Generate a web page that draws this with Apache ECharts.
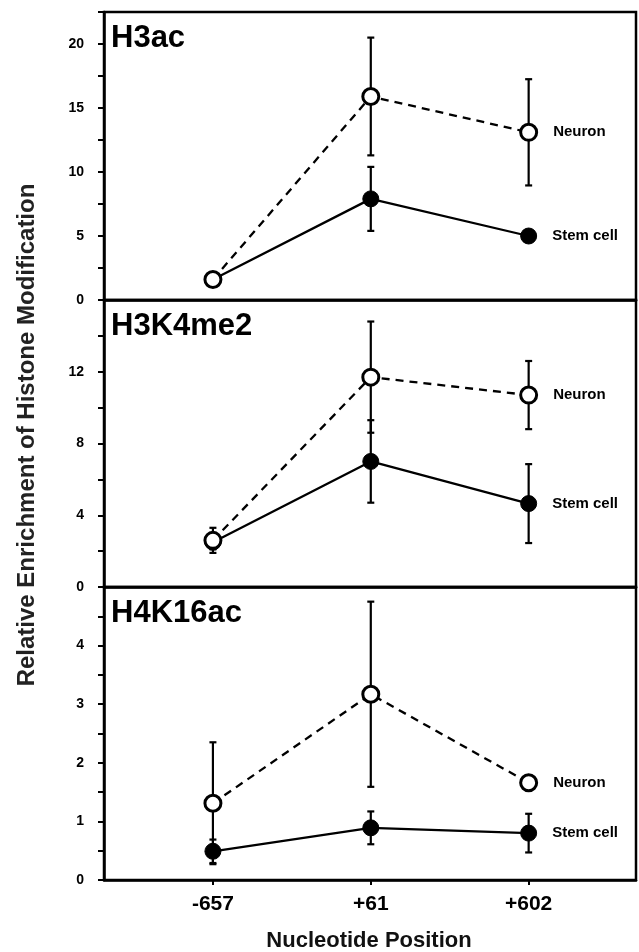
<!DOCTYPE html>
<html>
<head>
<meta charset="utf-8">
<script src="https://cdn.jsdelivr.net/npm/echarts@6/dist/echarts.min.js"></script>
<style>
html,body{margin:0;padding:0;background:#fff;}
#chart{width:639px;height:952px;}
</style>
</head>
<body>
<div id="chart"></div>
<script>
// Data
var categories = ['-657', '+61', '+602'];
var positions = [1, 2, 3];
var panelNames = ['H3ac', 'H3K4me2', 'H4K16ac'];
var seriesNames = ['Neuron', 'Stem cell'];

var h3acNeuron = [1.6, 15.9, 13.1];
var h3acNeuronErr = [0, 4.6, 4.15];
var h3acStem = [1.6, 7.9, 5.0];
var h3acStemErr = [0, 2.5, 0];

var h3k4Neuron = [2.6, 11.7, 10.7];
var h3k4NeuronErr = [0.7, 3.1, 1.9];
var h3k4Stem = [2.5, 7.0, 4.65];
var h3k4StemErr = [0.4, 2.3, 2.2];

var h4k16Neuron = [1.31, 3.17, 1.66];
var h4k16NeuronErr = [1.04, 1.58, 0.1];
var h4k16Stem = [0.49, 0.89, 0.8];
var h4k16StemErr = [0.2, 0.28, 0.33];

var yMax = [22.5, 16, 5];
var yInterval = [2.5, 2, 0.5];
var yLabelStep = [5, 4, 1];

var panels = [
  {neuron: h3acNeuron, neuronErr: h3acNeuronErr, stem: h3acStem, stemErr: h3acStemErr},
  {neuron: h3k4Neuron, neuronErr: h3k4NeuronErr, stem: h3k4Stem, stemErr: h3k4StemErr},
  {neuron: h4k16Neuron, neuronErr: h4k16NeuronErr, stem: h4k16Stem, stemErr: h4k16StemErr}
];

var gridTops = [12, 300, 587];
var gridHeights = [288, 287, 293];
var FONT = "'Liberation Sans', Arial, sans-serif";

var chart = echarts.init(document.getElementById('chart'), null, {renderer: 'canvas'});

var grids = [], xAxes = [], yAxes = [], series = [], titles = [];

function pairs(vals) {
  return vals.map(function (v, i) { return [positions[i], v]; });
}
function errData(vals, errs) {
  var out = [];
  vals.forEach(function (v, i) {
    if (errs[i] > 0) out.push([positions[i], v - errs[i], v + errs[i]]);
  });
  return out;
}
function renderErr(params, api) {
  var x = api.value(0);
  var lo = api.coord([x, api.value(1)]);
  var hi = api.coord([x, api.value(2)]);
  var cw = 3.5;
  var st = {stroke: '#000', lineWidth: 2.2};
  return {
    type: 'group',
    children: [
      {type: 'line', shape: {x1: lo[0], y1: lo[1], x2: hi[0], y2: hi[1]}, style: st},
      {type: 'line', shape: {x1: lo[0] - cw, y1: lo[1], x2: lo[0] + cw, y2: lo[1]}, style: st},
      {type: 'line', shape: {x1: hi[0] - cw, y1: hi[1], x2: hi[0] + cw, y2: hi[1]}, style: st}
    ]
  };
}

panels.forEach(function (p, k) {
  grids.push({left: 104, right: 3, top: gridTops[k], height: gridHeights[k],
    show: true, borderColor: '#000', borderWidth: 2.5, backgroundColor: 'transparent'});
  var isBottom = (k === 2);
  xAxes.push({
    type: 'value', gridIndex: k, min: 0.31, max: 3.68,
    axisLine: {show: true, onZero: false, lineStyle: {color: '#000', width: 2.5}},
    axisTick: {show: isBottom, customValues: positions, length: 5, lineStyle: {color: '#000', width: 2}},
    axisLabel: {show: isBottom, customValues: positions, margin: 14,
      formatter: function (v) { var i = positions.indexOf(v); return i >= 0 ? categories[i] : ''; },
      color: '#000', fontFamily: FONT, fontWeight: 'bold', fontSize: 21},
    splitLine: {show: false}
  });
  (function (k) {
    yAxes.push({
      type: 'value', gridIndex: k, min: 0, max: yMax[k], interval: yInterval[k],
      axisLine: {show: true, lineStyle: {color: '#000', width: 2.5}},
      axisTick: {show: true, length: 6, lineStyle: {color: '#000', width: 2}},
      axisLabel: {margin: 20, color: '#000', fontFamily: FONT, fontWeight: 'bold', fontSize: 14,
        formatter: function (v) {
          if (Math.abs(v - yMax[k]) < 1e-6) return '';
          var r = v / yLabelStep[k];
          return Math.abs(r - Math.round(r)) < 1e-6 ? String(v) : '';
        }},
      splitLine: {show: false}
    });
  })(k);
  titles.push({text: panelNames[k], left: 111, top: gridTops[k] + 11,
    textStyle: {fontFamily: FONT, fontWeight: 'bold', fontSize: 31, color: '#000', lineHeight: 31},
    padding: 0});

  series.push({type: 'custom', xAxisIndex: k, yAxisIndex: k, renderItem: renderErr,
    data: errData(p.neuron, p.neuronErr), z: 1, silent: true});
  series.push({type: 'custom', xAxisIndex: k, yAxisIndex: k, renderItem: renderErr,
    data: errData(p.stem, p.stemErr), z: 1, silent: true});

  var lastLabel = function (name) {
    return {show: true, position: 'right', distance: 15, color: '#000', fontFamily: FONT,
      fontWeight: 'bold', fontSize: 15,
      formatter: function (prm) { return prm.dataIndex === 2 ? name : ''; }};
  };
  series.push({
    name: seriesNames[1], type: 'line', xAxisIndex: k, yAxisIndex: k,
    data: pairs(p.stem), symbol: 'circle', symbolSize: 16, z: 3,
    lineStyle: {color: '#000', width: 2.3}, itemStyle: {color: '#000', borderColor: '#000', borderWidth: 1},
    label: lastLabel(seriesNames[1]), animation: false
  });
  series.push({
    name: seriesNames[0], type: 'line', xAxisIndex: k, yAxisIndex: k,
    data: pairs(p.neuron), symbol: 'circle', symbolSize: 16, z: 4,
    lineStyle: {color: '#000', width: 2.3, type: [8, 6]},
    itemStyle: {color: '#fff', borderColor: '#000', borderWidth: 3},
    label: lastLabel(seriesNames[0]), animation: false
  });
});

chart.setOption({
  animation: false,
  backgroundColor: '#fff',
  title: titles,
  grid: grids,
  xAxis: xAxes,
  yAxis: yAxes,
  series: series,
  graphic: [
    {type: 'text', x: 27, y: 435, rotation: Math.PI / 2,
      style: {text: 'Relative Enrichment of Histone Modification', fill: '#222',
        font: 'bold 24px ' + FONT, textAlign: 'center', textVerticalAlign: 'middle'}},
    {type: 'text', x: 369, y: 941,
      style: {text: 'Nucleotide Position', fill: '#111',
        font: 'bold 22px ' + FONT, textAlign: 'center', textVerticalAlign: 'middle'}}
  ]
});
</script>
</body>
</html>
